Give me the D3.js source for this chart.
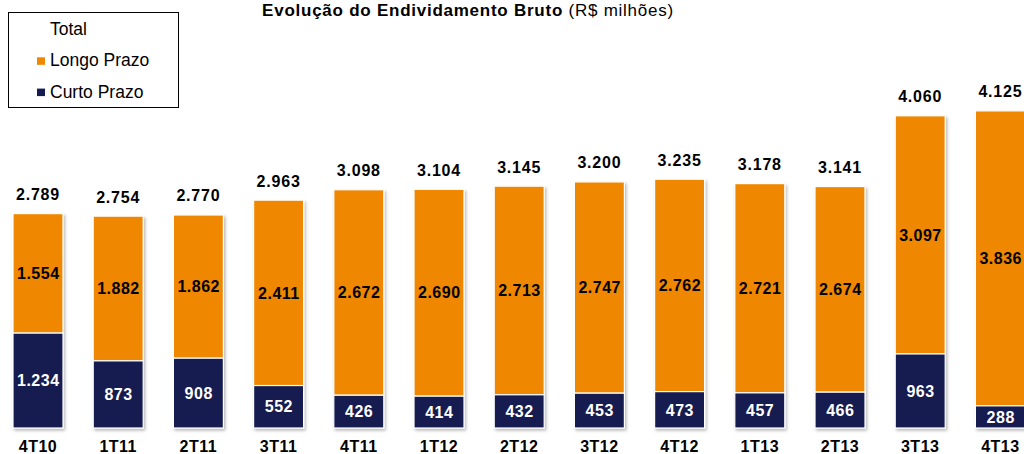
<!DOCTYPE html>
<html>
<head>
<meta charset="utf-8">
<script src="https://cdn.jsdelivr.net/npm/d3@7"></script>
<style>
  html, body { margin: 0; padding: 0; background: #fff; }
  svg { display: block; font-family: "Liberation Sans", Arial, sans-serif; }
</style>
</head>
<body>
<svg id="chart" width="1024" height="454"></svg>
<script>
const categories = ["4T10","1T11","2T11","3T11","4T11","1T12","2T12","3T12","4T12","1T13","2T13","3T13","4T13"];
const curtoPrazo = [1234, 873, 908, 552, 426, 414, 432, 453, 473, 457, 466, 963, 288];
const longoPrazo = [1554, 1882, 1862, 2411, 2672, 2690, 2713, 2747, 2762, 2721, 2674, 3097, 3836];
const totals = [2789, 2754, 2770, 2963, 3098, 3104, 3145, 3200, 3235, 3178, 3141, 4060, 4125];
const seriesNames = ["Total", "Longo Prazo", "Curto Prazo"];

const ORANGE = "#F08700";
const NAVY = "#141B50";

const fmt = v => d3.format(",")(v).replace(/,/g, ".");

const svg = d3.select("#chart");
const defs = svg.append("defs");
const f = defs.append("filter").attr("id", "shadow").attr("x", "-20%").attr("y", "-20%").attr("width", "150%").attr("height", "150%");
f.append("feDropShadow").attr("dx", 1.5).attr("dy", 2).attr("stdDeviation", 1.5).attr("flood-color", "#000").attr("flood-opacity", 0.28);

const x = d3.scaleBand().domain(categories).range([-2.1, 1040.5]).paddingInner(0.3766).paddingOuter(0.1883);
const y = d3.scaleLinear().domain([0, 5000]).range([428, 428 - 5000 * 0.0769]);

const data = categories.map((c, i) => ({ c, cp: curtoPrazo[i], lp: longoPrazo[i], t: totals[i] }));

const g = svg.append("g");
const bars = g.selectAll("g.bar").data(data).join("g").attr("class", "bar").attr("filter", "url(#shadow)");
bars.append("rect")
  .attr("x", d => x(d.c)).attr("width", x.bandwidth())
  .attr("y", d => y(d.cp + d.lp)).attr("height", d => y(d.cp) - y(d.cp + d.lp))
  .attr("fill", ORANGE).attr("stroke", "#fff").attr("stroke-width", 1.2);
bars.append("rect")
  .attr("x", d => x(d.c)).attr("width", x.bandwidth())
  .attr("y", d => y(d.cp)).attr("height", d => y(0) - y(d.cp))
  .attr("fill", NAVY).attr("stroke", "#fff").attr("stroke-width", 1.2);

// segment labels
g.selectAll("text.lp").data(data).join("text")
  .attr("x", d => x(d.c) + x.bandwidth() / 2 + 0.3)
  .attr("y", d => (y(d.cp) + y(d.cp + d.lp)) / 2 + 5.7)
  .attr("text-anchor", "middle").attr("font-size", 16).attr("font-weight", "bold").attr("letter-spacing", 0.5).attr("fill", "#000")
  .text(d => fmt(d.lp));
g.selectAll("text.cp").data(data).join("text")
  .attr("x", d => x(d.c) + x.bandwidth() / 2 + 0.3)
  .attr("y", d => (y(0) + y(d.cp)) / 2 + 5.7)
  .attr("text-anchor", "middle").attr("font-size", 16).attr("font-weight", "bold").attr("letter-spacing", 0.5).attr("fill", "#fff")
  .text(d => fmt(d.cp));
// totals
g.selectAll("text.tot").data(data).join("text")
  .attr("x", d => x(d.c) + x.bandwidth() / 2)
  .attr("y", d => y(d.t) - 13.5)
  .attr("text-anchor", "middle").attr("font-size", 16).attr("font-weight", "bold").attr("letter-spacing", 0.8).attr("fill", "#000")
  .text(d => fmt(d.t));
// category axis
const xAxis = d3.axisBottom(x).tickSize(0).tickPadding(0);
const ax = svg.append("g").attr("transform", "translate(0,440)").call(xAxis);
ax.select(".domain").remove();
ax.selectAll("text").attr("font-size", 16).attr("font-weight", "bold").attr("letter-spacing", 0.5).attr("fill", "#000")
  .attr("font-family", "'Liberation Sans', Arial, sans-serif").attr("dy", "0.75em");

// title
const title = svg.append("text").attr("x", 468).attr("y", 16).attr("text-anchor", "middle").attr("font-size", 17).attr("letter-spacing", 0.75);
title.append("tspan").attr("font-weight", "bold").text("Evolução do Endividamento Bruto");
title.append("tspan").text(" (R$ milhões)");

// legend
const lg = svg.append("g");
lg.append("rect").attr("x", 8.5).attr("y", 12.5).attr("width", 170).attr("height", 95)
  .attr("fill", "#fff").attr("stroke", "#000").attr("stroke-width", 1);
const legendItems = [
  { name: seriesNames[0], color: null },
  { name: seriesNames[1], color: ORANGE },
  { name: seriesNames[2], color: NAVY }
];
const li = lg.selectAll("g.li").data(legendItems).join("g").attr("transform", (d, i) => `translate(0,${35 + i * 31.3})`);
li.filter(d => d.color).append("rect").attr("x", 37).attr("y", -9).attr("width", 8).attr("height", 7.5).attr("fill", d => d.color);
li.append("text").attr("x", 50).attr("y", 0).attr("font-size", 17.5).attr("fill", "#000").text(d => d.name);
</script>
</body>
</html>
